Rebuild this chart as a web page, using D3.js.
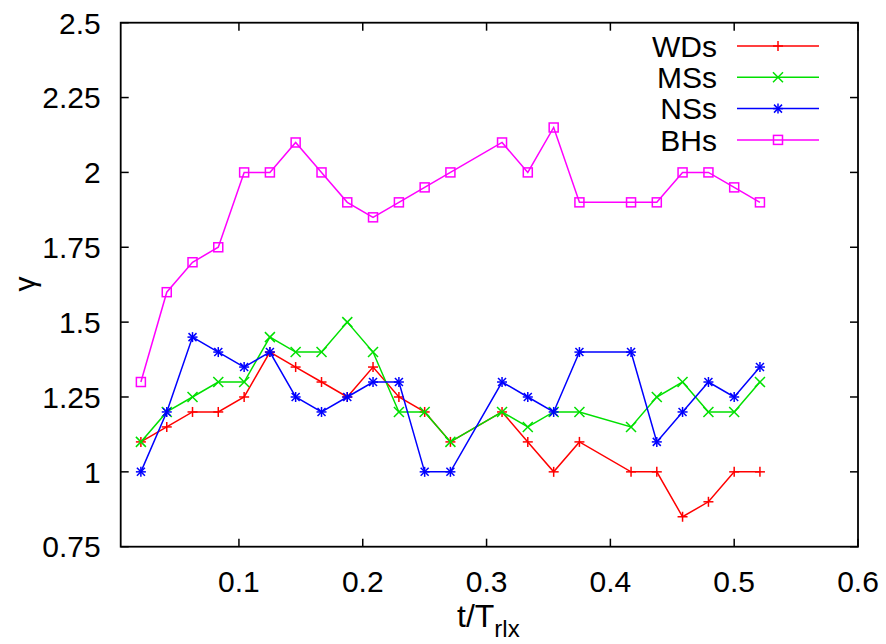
<!DOCTYPE html>
<html>
<head>
<meta charset="utf-8">
<title>gamma vs t/Trlx</title>
<style>
  body { margin: 0; background: #fff; }
  svg { display: block; font-family: "Liberation Sans", Arial, Helvetica, sans-serif; }
  .frame { fill: none; stroke: #000; stroke-width: 1.8px; }
  .tick-line { stroke: #000; stroke-width: 1.5px; }
  .tick-label { font-size: 30px; fill: #000; }
  .series { fill: none; stroke-width: 1.5px; }
</style>
<script src="https://cdn.jsdelivr.net/npm/d3@7"></script>
</head>
<body>
<svg width="886" height="644"></svg>
<script>

// t/T_rlx sample times
var tValues = [0.0208, 0.0417, 0.0625, 0.0833, 0.1042, 0.125, 0.1458, 0.1667, 0.1875, 0.2083,
               0.2292, 0.25, 0.2708, 0.3125, 0.3333, 0.3542, 0.375, 0.4167, 0.4375, 0.4583,
               0.4792, 0.5, 0.5208];

var wds = [1.1, 1.15, 1.2, 1.2, 1.25, 1.4, 1.35, 1.3, 1.25, 1.35, 1.25, 1.2, 1.1,
           1.2, 1.1, 1.0, 1.1, 1.0, 1.0, 0.85, 0.9, 1.0, 1.0];
var mss = [1.1, 1.2, 1.25, 1.3, 1.3, 1.45, 1.4, 1.4, 1.5, 1.4, 1.2, 1.2, 1.1,
           1.2, 1.15, 1.2, 1.2, 1.15, 1.25, 1.3, 1.2, 1.2, 1.3];
var nss = [1.0, 1.2, 1.45, 1.4, 1.35, 1.4, 1.25, 1.2, 1.25, 1.3, 1.3, 1.0, 1.0,
           1.3, 1.25, 1.2, 1.4, 1.4, 1.1, 1.2, 1.3, 1.25, 1.35];
var bhs = [1.3, 1.6, 1.7, 1.75, 2.0, 2.0, 2.1, 2.0, 1.9, 1.85, 1.9, 1.95, 2.0,
           2.1, 2.0, 2.15, 1.9, 1.9, 1.9, 2.0, 2.0, 1.95, 1.9];

var seriesNames = ["WDs", "MSs", "NSs", "BHs"];
var seriesColors = ["#ff0000", "#00e000", "#0000ff", "#ff00ff"];
var seriesMarkers = ["plus", "cross", "star", "square"];

var xTicks = [0.1, 0.2, 0.3, 0.4, 0.5, 0.6];
var yTicks = [0.75, 1, 1.25, 1.5, 1.75, 2, 2.25, 2.5];

var svg = d3.select("svg"),
    margin = {top: 22.7, right: 28, bottom: 97.3, left: 120.7},
    width = +svg.attr("width") - margin.left - margin.right,
    height = +svg.attr("height") - margin.top - margin.bottom,
    g = svg.append("g").attr("transform", "translate(" + margin.left + "," + margin.top + ")");

var x = d3.scaleLinear().domain([0.0045, 0.6]).range([0, width]);
var y = d3.scaleLinear().domain([0.75, 2.5]).range([height, 0]);

var tickLen = 8;

// ticks, mirrored on all sides, pointing inward
xTicks.forEach(function(t) {
  g.append("line").attr("class", "tick-line")
    .attr("x1", x(t)).attr("x2", x(t)).attr("y1", height).attr("y2", height - tickLen);
  g.append("line").attr("class", "tick-line")
    .attr("x1", x(t)).attr("x2", x(t)).attr("y1", 0).attr("y2", tickLen);
  g.append("text").attr("class", "tick-label")
    .attr("x", x(t)).attr("y", height + 45)
    .attr("text-anchor", "middle")
    .text(t);
});

yTicks.forEach(function(v) {
  g.append("line").attr("class", "tick-line")
    .attr("x1", 0).attr("x2", tickLen).attr("y1", y(v)).attr("y2", y(v));
  g.append("line").attr("class", "tick-line")
    .attr("x1", width).attr("x2", width - tickLen).attr("y1", y(v)).attr("y2", y(v));
  g.append("text").attr("class", "tick-label")
    .attr("x", -20).attr("y", y(v)).attr("dy", "0.36em")
    .attr("text-anchor", "end")
    .text(v);
});

g.append("rect").attr("class", "frame")
  .attr("x", 0).attr("y", 0).attr("width", width).attr("height", height);

// axis titles
var xt = svg.append("text")
  .attr("x", 457).attr("y", 627)
  .attr("font-size", 32);
xt.append("tspan").text("t/T");
xt.append("tspan").attr("font-size", 24).attr("dy", 10).text("rlx");

svg.append("text")
  .attr("transform", "translate(35,284) rotate(-90)")
  .attr("text-anchor", "middle")
  .attr("font-size", 30)
  .text("γ");

function drawMarker(sel, type, color) {
  var s = 5;
  if (type === "plus" || type === "star") {
    sel.append("line").attr("x1", -s).attr("x2", s).attr("y1", 0).attr("y2", 0);
    sel.append("line").attr("x1", 0).attr("x2", 0).attr("y1", -s).attr("y2", s);
  }
  if (type === "cross" || type === "star") {
    var c = type === "star" ? 4 : 5;
    sel.append("line").attr("x1", -c).attr("x2", c).attr("y1", -c).attr("y2", c);
    sel.append("line").attr("x1", -c).attr("x2", c).attr("y1", c).attr("y2", -c);
  }
  if (type === "square") {
    sel.append("rect").attr("x", -4.5).attr("y", -4.5).attr("width", 9).attr("height", 9)
      .attr("fill", "none");
  }
  sel.attr("stroke", color).attr("stroke-width", 1.5);
}

var allSeries = [wds, mss, nss, bhs];

var line = d3.line()
  .x(function(d) { return x(d.t); })
  .y(function(d) { return y(d.v); });

allSeries.forEach(function(vals, i) {
  var pts = vals.map(function(v, j) { return {t: tValues[j], v: v}; });
  g.append("path").datum(pts)
    .attr("class", "series")
    .attr("stroke", seriesColors[i])
    .attr("d", line);
  g.selectAll(".m" + i).data(pts).enter().append("g")
    .attr("class", "m" + i)
    .attr("transform", function(d) { return "translate(" + x(d.t) + "," + y(d.v) + ")"; })
    .each(function() { drawMarker(d3.select(this), seriesMarkers[i], seriesColors[i]); });
});

// legend
var legend = svg.append("g")
  .selectAll("g")
  .data(seriesNames)
  .enter().append("g")
  .attr("transform", function(d, i) { return "translate(0," + (46 + i * 31.3) + ")"; });

legend.append("text")
  .attr("x", 717).attr("dy", "0.36em")
  .attr("text-anchor", "end")
  .attr("font-size", 30)
  .text(function(d) { return d; });

legend.append("line")
  .attr("x1", 737).attr("x2", 819)
  .attr("stroke", function(d, i) { return seriesColors[i]; })
  .attr("stroke-width", 1.5);

legend.append("g")
  .attr("transform", "translate(778,0)")
  .each(function(d, i) { drawMarker(d3.select(this), seriesMarkers[i], seriesColors[i]); });

</script>
</body>
</html>
